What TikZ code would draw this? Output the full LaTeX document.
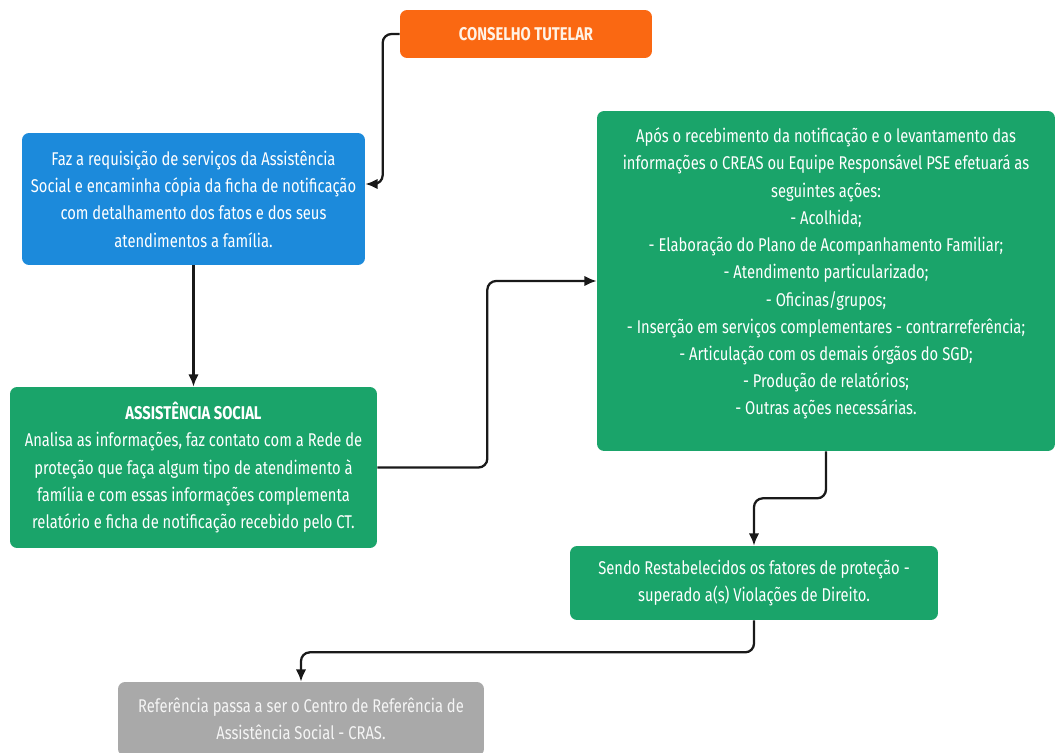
\documentclass[tikz,border=0pt]{standalone}
\usepackage{fontspec}
\setmainfont[FakeStretch=0.8]{Fira Sans}
\usetikzlibrary{arrows.meta}
\definecolor{ctorange}{HTML}{FA6812}
\definecolor{reqblue}{HTML}{1C8ADB}
\definecolor{asgreen}{HTML}{1AA46A}
\definecolor{crasgray}{HTML}{A9A9A9}
\begin{document}
\begin{tikzpicture}[x=0.02cm,y=-0.02cm,
    box/.style={rounded corners=4pt,text=white,align=center,inner sep=2pt,font=\fontsize{10.5}{15.5}\selectfont},
    link/.style={draw=black!90,line width=1.3pt,rounded corners=5pt,-{Latex[length=7pt,width=6pt]}}] %
  \useasboundingbox (0,0) rectangle (1056,753); %
  \node[box,fill=ctorange,minimum width=5.04cm,minimum height=0.96cm,text=orange!10,font=\bfseries\fontsize{10.5}{13}\selectfont] (ct) at (526,34) {CONSELHO TUTELAR} ; %
  \node[box,fill=reqblue,minimum width=6.86cm,minimum height=2.64cm] (req) at (193.5,199) {Faz a requisição de serviços da Assistência\\Social e encaminha cópia da ficha de notificação\\com detalhamento dos fatos e dos seus\\atendimentos a família.} ; %
  \node[box,fill=asgreen,minimum width=9.16cm,minimum height=6.8cm] (acoes) at (826,281) {} ; %
  \node[box,anchor=north] (acoestxt) at (826,124) {Após o recebimento da notificação e o levantamento das\\informações o CREAS ou Equipe Responsável PSE efetuará as\\seguintes ações:\\- Acolhida;\\- Elaboração do Plano de Acompanhamento Familiar;\\- Atendimento particularizado;\\- Oficinas/grupos;\\- Inserção em serviços complementares - contrarreferência;\\- Articulação com os demais órgãos do SGD;\\- Produção de relatórios;\\- Outras ações necessárias.} ; %
  \node[box,fill=asgreen,minimum width=7.34cm,minimum height=3.22cm] (as) at (193.5,467.5) {\textbf{ASSISTÊNCIA SOCIAL}\\Analisa as informações, faz contato com a Rede de\\proteção que faça algum tipo de atendimento à\\família e com essas informações complementa\\relatório e ficha de notificação recebido pelo CT.} ; %
  \node[box,fill=asgreen,minimum width=7.36cm,minimum height=1.48cm] (sendo) at (754,583) {Sendo Restabelecidos os fatores de proteção -\\superado a(s) Violações de Direito.} ; %
  \node[box,fill=crasgray,minimum width=7.32cm,minimum height=1.48cm,text=white!92!gray] (cras) at (301,719) {Referência passa a ser o Centro de Referência de\\Assistência Social - CRAS.} ; %
  \draw[link] (ct.west) -- ++(-17,0) |- ([yshift=0.3cm]req.east) ; %
  \draw[link] (req.south) -- (as.north) ;
  \draw[link] (as.east) -- ++(110,0) |- (acoes.west) ;
  \draw[link] (acoes.south) -- ++(0,47) -| (sendo.north) ;
  \draw[link] (sendo.south) -- ++(0,32) -| (cras.north) ;
\end{tikzpicture}
\end{document}
